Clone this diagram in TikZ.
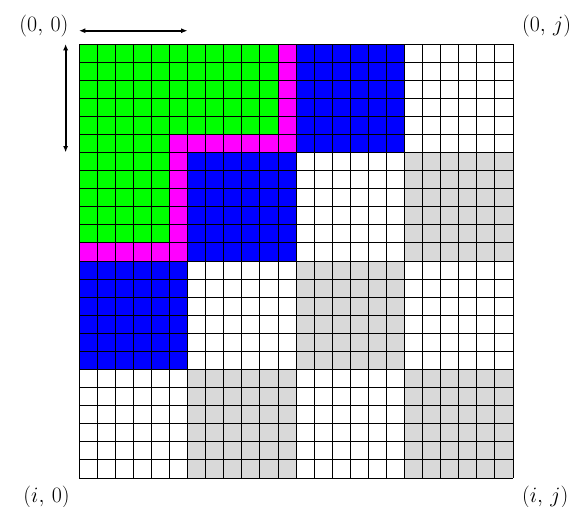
\documentclass[tikz,border=0pt]{standalone}
\usetikzlibrary{arrows.meta}

\definecolor{cellgreen}{RGB}{0,255,0}
\definecolor{cellmagenta}{RGB}{255,0,255}
\definecolor{cellblue}{RGB}{0,0,255}
\definecolor{cellgrey}{RGB}{217,217,217}

\begin{document}
\begin{tikzpicture}[
  x=0.5cm, y=-0.5cm,
  lbl/.style={font=\LARGE,inner sep=0pt},
  span/.style={line width=1.4pt,{Latex[length=5pt,width=4pt]}-{Latex[length=5pt,width=4pt]}},
  cellline/.style={line width=0.5pt,black},
]
  \useasboundingbox (-4.37,-2.43) rectangle (27.27,25.61);

  % green part
  \fill[cellgreen] (0,0) rectangle (11,5);
  \fill[cellgreen] (0,5) rectangle (5,11);

  % magenta borders
  \fill[cellmagenta] (11,0) rectangle (12,6);
  \fill[cellmagenta] (5,5) rectangle (12,6);
  \fill[cellmagenta] (5,5) rectangle (6,12);
  \fill[cellmagenta] (0,11) rectangle (6,12);

  % blue blocks on the anti-diagonal
  \fill[cellblue] (12,0) rectangle (18,6);
  \fill[cellblue] (6,6) rectangle (12,12);
  \fill[cellblue] (0,12) rectangle (6,18);

  % grey blocks
  \fill[cellgrey] (18,6) rectangle (24,12);
  \fill[cellgrey] (12,12) rectangle (18,18);
  \fill[cellgrey] (6,18) rectangle (12,24);
  \fill[cellgrey] (18,18) rectangle (24,24);

  \draw[cellline,step=0.5cm] (0,0) grid (24,24);

  % corner labels
  \node[lbl,anchor=east] (c00) at (-0.57,-1.0) {$(0,\,0)$};
  \node[lbl,anchor=west] (c0j) at (24.49,-1.0) {$(0,\,j)$};
  \node[lbl,anchor=east] (ci0) at (-0.5,25.05) {$(i,\,0)$};
  \node[lbl,anchor=west] (cij) at (24.49,25.05) {$(i,\,j)$};

  % block size arrows
  \coordinate (hL) at (0,-0.73);
  \coordinate (hR) at (6,-0.73);
  \coordinate (vT) at (-0.74,0);
  \coordinate (vB) at (-0.74,6);
  \draw[span] (hL) -- (hR);
  \draw[span] (vT) -- (vB);
\end{tikzpicture}
\end{document}
